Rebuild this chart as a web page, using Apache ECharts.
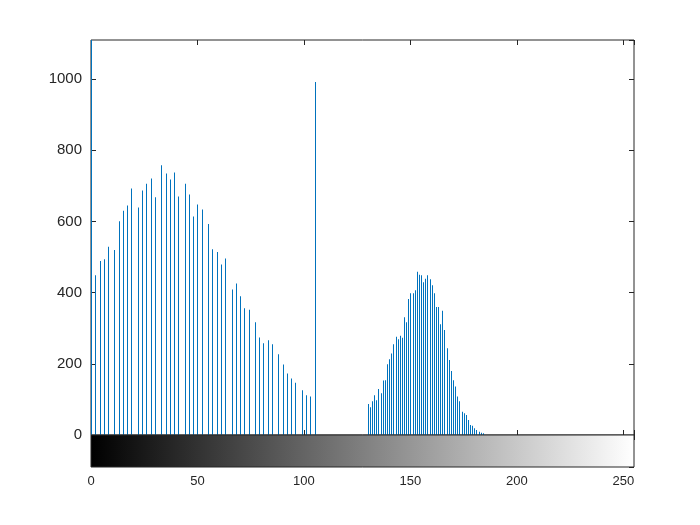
<!DOCTYPE html>
<html>
<head>
<meta charset="utf-8">
<script src="https://cdn.jsdelivr.net/npm/echarts@6/dist/echarts.min.js"></script>
<style>
  html, body { margin: 0; padding: 0; background: #fff; }
  #chart { width: 700px; height: 525px; }
</style>
</head>
<body>
<div id="chart"></div>
<script>
// 直方图数据：灰度级 -> 像素数
const leftBins = [0, 2, 4, 6, 8, 11, 13, 15, 17, 19, 22, 24, 26, 28, 30, 33, 35, 37, 39, 41,
  44, 46, 48, 50, 52, 55, 57, 59, 61, 63, 66, 68, 70, 72, 74, 77, 79, 81, 83, 85,
  88, 90, 92, 94, 96, 99, 101, 103, 105];
const leftCounts = [1300, 449, 489, 494, 529, 520, 601, 630, 645, 693, 639, 687, 706, 721, 668, 758, 735, 718, 738, 670,
  706, 676, 614, 648, 634, 593, 522, 514, 479, 496, 409, 426, 390, 356, 352, 317, 274, 258, 266, 255,
  227, 198, 173, 159, 147, 126, 112, 108, 992];
const rightBins = [130, 131, 132, 133, 134, 135, 136, 137, 138, 139, 140, 141, 142, 143, 144, 145, 146, 147, 148, 149,
  150, 151, 152, 153, 154, 155, 156, 157, 158, 159, 160, 161, 162, 163, 164, 165, 166, 167, 168, 169,
  170, 171, 172, 173, 174, 175, 176, 177, 178, 179, 180, 181, 182, 183, 184];
const rightCounts = [87, 78, 95, 112, 98, 129, 117, 153, 154, 199, 213, 229, 255, 276, 269, 279, 273, 331, 317, 382,
  398, 398, 407, 459, 450, 449, 429, 439, 449, 438, 421, 398, 360, 360, 311, 349, 295, 244, 211, 180,
  154, 136, 108, 95, 65, 61, 56, 42, 28, 26, 19, 14, 9, 6, 5];
const xTicks = [0, 50, 100, 150, 200, 250];
const yTicks = [0, 200, 400, 600, 800, 1000];
const grayRange = [0, 255];
const yMax = 1110;

const histData = leftBins.map((b, i) => [b, leftCounts[i]])
  .concat(rightBins.map((b, i) => [b, rightCounts[i]]));

const axisColor = "#262626";
const stemColor = "#0072BD";
const fontFamily = "'Liberation Sans', Arial, sans-serif";

const chart = echarts.init(document.getElementById("chart"));

const tickStyle = { show: true, inside: true, length: 5, lineStyle: { color: axisColor, width: 1 } };
const noLine = { show: false, onZero: false };

const option = {
  animation: false,
  backgroundColor: "#fff",
  grid: [
    { left: 91, top: 40, width: 543, height: 395, show: true, borderColor: axisColor, borderWidth: 1, backgroundColor: "transparent" },
    { left: 91, top: 435, width: 543, height: 32, show: true, borderColor: axisColor, borderWidth: 1, backgroundColor: "transparent", z: 5 }
  ],
  xAxis: [
    // 直方图底部
    { gridIndex: 0, type: "value", min: grayRange[0], max: grayRange[1], interval: 50, position: "bottom",
      axisLine: noLine, axisTick: tickStyle, axisLabel: { show: false }, splitLine: { show: false } },
    // 直方图顶部
    { gridIndex: 0, type: "value", min: grayRange[0], max: grayRange[1], interval: 50, position: "top",
      axisLine: noLine, axisTick: tickStyle, axisLabel: { show: false }, splitLine: { show: false } },
    // 色条底部（带刻度标签）
    { gridIndex: 1, type: "value", min: grayRange[0], max: grayRange[1], interval: 50, position: "bottom",
      axisLine: noLine, axisTick: tickStyle, splitLine: { show: false },
      axisLabel: { show: true, margin: 8, color: axisColor, fontSize: 13, fontFamily: fontFamily, showMaxLabel: false,
        formatter: (v) => (xTicks.indexOf(v) >= 0 ? String(v) : "") } },
    // 色条顶部
    { gridIndex: 1, type: "value", min: grayRange[0], max: grayRange[1], interval: 50, position: "top",
      axisLine: noLine, axisTick: tickStyle, axisLabel: { show: false }, splitLine: { show: false } }
  ],
  yAxis: [
    { gridIndex: 0, type: "value", min: 0, max: yMax, interval: 200, position: "left",
      axisLine: noLine, axisTick: tickStyle, splitLine: { show: false },
      axisLabel: { show: true, margin: 9, color: axisColor, fontSize: 15, fontFamily: fontFamily, showMaxLabel: false,
        formatter: (v) => (yTicks.indexOf(v) >= 0 ? String(v) : "") } },
    { gridIndex: 0, type: "value", min: 0, max: yMax, interval: 200, position: "right",
      axisLine: noLine, axisTick: tickStyle, axisLabel: { show: false }, splitLine: { show: false } },
    { gridIndex: 1, type: "value", min: 0, max: 1, interval: 0.5, position: "right",
      axisLine: noLine, axisTick: tickStyle, axisLabel: { show: false }, splitLine: { show: false } }
  ],
  series: [
    {
      // 直方图竖线（stem），用 1px 宽矩形画，避免模糊
      type: "custom",
      xAxisIndex: 0,
      yAxisIndex: 0,
      data: histData,
      clip: true,
      itemStyle: { color: stemColor },
      renderItem: function (params, api) {
        const top = api.coord([api.value(0), Math.min(api.value(1), yMax)]);
        const base = api.coord([api.value(0), 0]);
        const x = Math.round(top[0]);
        return {
          type: "rect",
          shape: { x: x, y: top[1], width: 1, height: base[1] - top[1] },
          style: { fill: stemColor, stroke: null }
        };
      },
      z: 3
    },
    {
      // 灰度色条
      type: "custom",
      xAxisIndex: 2,
      yAxisIndex: 2,
      data: [[grayRange[0], grayRange[1]]],
      renderItem: function (params, api) {
        const p0 = api.coord([api.value(0), 1]);
        const p1 = api.coord([api.value(1), 0]);
        return {
          type: "rect",
          shape: { x: p0[0], y: p0[1], width: p1[0] - p0[0], height: p1[1] - p0[1] },
          style: {
            fill: new echarts.graphic.LinearGradient(0, 0, 1, 0, [
              { offset: 0, color: "#000000" },
              { offset: 1, color: "#ffffff" }
            ])
          }
        };
      },
      z: 1
    }
  ]
};

chart.setOption(option);
</script>
</body>
</html>
